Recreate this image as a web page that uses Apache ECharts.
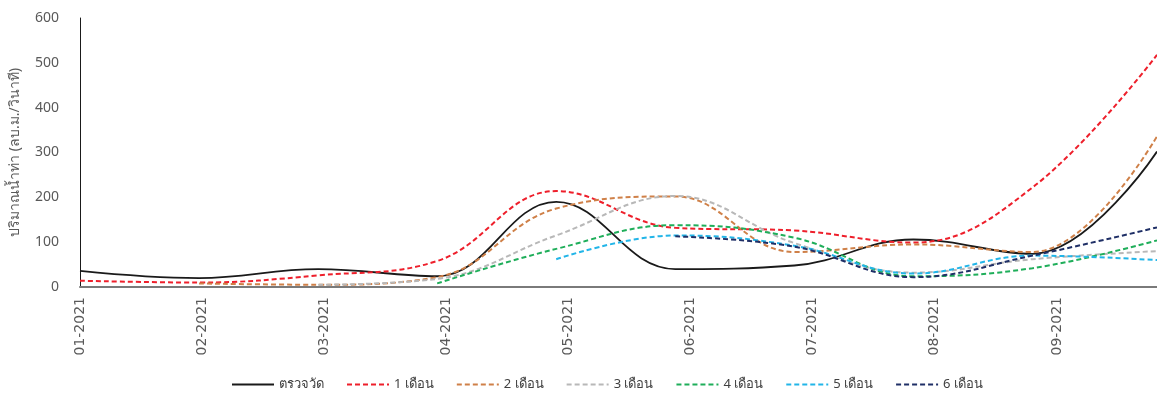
<!DOCTYPE html>
<html><head><meta charset="utf-8">
<script src="https://cdn.jsdelivr.net/npm/echarts@6/dist/echarts.min.js"></script>
<style>html,body{margin:0;padding:0;background:#fff}#c{width:1157px;height:396px}</style>
</head><body><div id="c"></div>
<script>
// Month tick labels (one per unit on the x axis)
const tickLabels = ['01-2021','02-2021','03-2021','04-2021','05-2021','06-2021','07-2021','08-2021','09-2021'];
// Sample positions in months since 01-2021
const samplePos = [0, 0.975, 1.95, 2.925, 3.9, 4.875, 5.85, 6.825, 7.8, 8.82];
// Series values (ลบ.ม./วินาที)
const observed = [36, 20, 40, 24, 190, 40, 48, 106, 74, 302];
const lead1 = [14, 10, 26, 58, 214, 132, 126, 99, 222, 518];
const lead2 = [null, 8, 5, 22, 175, 202, 78, 95, 78, 336];
const lead3 = [null, null, 5, 18, 115, 203, 98, 32, 62, 80];
const lead4 = [null, null, null, 8, 85, 138, 110, 24, 42, 104];
const lead5 = [null, null, null, null, 62, 115, 92, 30, 70, 60];
const lead6 = [null, null, null, null, null, 113, 90, 22, 70, 133];
const seriesNames = ['ตรวจวัด','1 เดือน','2 เดือน','3 เดือน','4 เดือน','5 เดือน','6 เดือน'];
const seriesColors = ['#1a1a1a','#ee1f2b','#cf8048','#b8b8b8','#1fae5a','#22b5e8','#1f2f66'];
const yAxisName = 'ปริมาณน้ำท่า (ลบ.ม./วินาที)';

const allValues = [observed, lead1, lead2, lead3, lead4, lead5, lead6];
const font = '"Noto Sans", "Open Sans", sans-serif';

const series = allValues.map((vals, i) => ({
  name: seriesNames[i],
  type: 'line',
  smooth: 0.4,
  symbol: 'none',
  clip: true,
  connectNulls: false,
  lineStyle: {
    color: seriesColors[i],
    width: i === 0 ? 1.8 : 2,
    type: i === 0 ? 'solid' : [5, 3]
  },
  itemStyle: { color: seriesColors[i] },
  data: samplePos.map((x, j) => vals[j] == null ? null : [x, vals[j]]).filter(d => d !== null)
}));

const chart = echarts.init(document.getElementById('c'));
chart.setOption({
  animation: false,
  backgroundColor: '#fff',
  textStyle: { fontFamily: font },
  grid: { left: 78, right: 0, top: 18, bottom: 109, containLabel: false },
  xAxis: {
    type: 'value',
    min: 0,
    max: 8.82,
    interval: 1,
    axisLine: { show: true, lineStyle: { color: '#7a7a7a', width: 2 } },
    axisTick: { show: false },
    splitLine: { show: false },
    axisLabel: {
      rotate: 90,
      margin: 10,
      color: '#595959',
      fontSize: 14,
      fontFamily: '"DejaVu Sans", sans-serif',
      showMaxLabel: false,
      formatter: v => {
        const i = Math.round(v);
        return Math.abs(v - i) < 1e-6 && tickLabels[i] ? tickLabels[i] : '';
      }
    }
  },
  yAxis: {
    type: 'value',
    min: 0,
    max: 600,
    interval: 100,
    name: yAxisName,
    nameLocation: 'middle',
    nameGap: 58,
    nameTextStyle: { color: '#595959', fontSize: 14, fontFamily: font },
    axisLine: { show: true, lineStyle: { color: '#1a1a1a', width: 1 } },
    axisTick: { show: false },
    splitLine: { show: false },
    axisLabel: { color: '#595959', fontSize: 14, margin: 21, fontFamily: font }
  },
  legend: {
    left: 226,
    top: 373,
    itemWidth: 42,
    itemHeight: 10,
    itemGap: 22,
    itemStyle: { opacity: 0 },
    textStyle: { color: '#404040', fontSize: 13, fontFamily: font },
    data: seriesNames
  },
  series: series
});
</script>
</body></html>
